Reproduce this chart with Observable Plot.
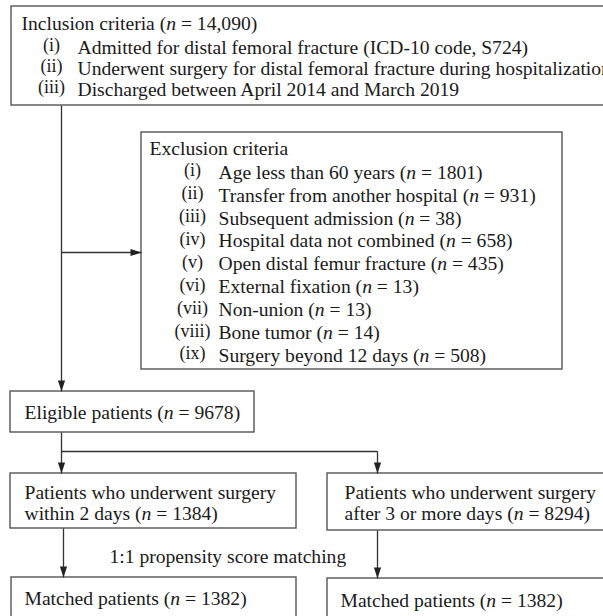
<!DOCTYPE html>
<html>
<head>
<meta charset="utf-8">
<script src="https://cdn.jsdelivr.net/npm/d3@7"></script>
<script src="https://cdn.jsdelivr.net/npm/@observablehq/plot@0.6"></script>
<style>
  html, body { margin: 0; padding: 0; background: #fff; overflow: hidden; }
  #chart svg { display: block; }
  #chart svg text { font-family: "Liberation Serif", "Times New Roman", serif; }
</style>
</head>
<body>
<div id="chart"></div>
<script>
// ---------------- DATA ----------------
const inclusionCount = 14090;
const inclusionNumerals = ["(i)", "(ii)", "(iii)"];
const inclusionItems = [
  "Admitted for distal femoral fracture (ICD-10 code, S724)",
  "Underwent surgery for distal femoral fracture during hospitalization",
  "Discharged between April 2014 and March 2019"
];
const exclusionNumerals = ["(i)", "(ii)", "(iii)", "(iv)", "(v)", "(vi)", "(vii)", "(viii)", "(ix)"];
const exclusionReasons = [
  "Age less than 60 years",
  "Transfer from another hospital",
  "Subsequent admission",
  "Hospital data not combined",
  "Open distal femur fracture",
  "External fixation",
  "Non-union",
  "Bone tumor",
  "Surgery beyond 12 days"
];
const exclusionCounts = [1801, 931, 38, 658, 435, 13, 13, 14, 508];
const eligibleCount = 9678;
const groupLines = [
  ["Patients who underwent surgery", "within 2 days"],
  ["Patients who underwent surgery", "after 3 or more days"]
];
const groupCounts = [1384, 8294];
const matchingLabel = "1:1 propensity score matching";
const matchedCounts = [1382, 1382];

// ---------------- LAYOUT (pixel frame 603 x 616) ----------------
const L = {
  top:      {x1: 11,  x2: 612, y1: 6,   y2: 105, hx: 21, hy: 23, nx: 51, tx: 77, rows: [47, 68, 89]},
  excl:     {x1: 141, x2: 562, y1: 132, y2: 369, hx: 149, hy: 148, nx: 192, tx: 218, row0: 172, step: 22.9},
  elig:     {x1: 10,  x2: 254, y1: 391, y2: 432, tx: 24, ty: 412},
  groups:   [{x1: 10, x2: 296, y1: 473, y2: 528, tx: 24, ty: [492, 513]},
             {x1: 327, x2: 612, y1: 473, y2: 530, tx: 344, ty: [492, 513]}],
  matchLbl: {x: 109, y: 556},
  matched:  [{x1: 11, x2: 296, y1: 577, y2: 640, tx: 24, ty: 598},
             {x1: 327, x2: 612, y1: 578, y2: 640, tx: 340, ty: 600}]
};

const fmt = n => n >= 10000 ? d3.format(",")(n) : String(n);
const nStr = n => `(n = ${fmt(n)})`;

const boxes = [L.top, L.excl, L.elig, ...L.groups, ...L.matched];

const segs = [
  {x1: 61, y1: L.top.y2, x2: 61, y2: L.elig.y1, arrow: true, rot: 0},
  {x1: 61, y1: 252, x2: L.excl.x1, y2: 252, arrow: true, rot: -90},
  {x1: 61, y1: L.elig.y2, x2: 61, y2: L.groups[0].y1, arrow: true, rot: 0},
  {x1: 61, y1: 451, x2: 377, y2: 451, arrow: false},
  {x1: 377, y1: 451, x2: 377, y2: L.groups[1].y1, arrow: true, rot: 0},
  {x1: 63, y1: L.groups[0].y2, x2: 63, y2: L.matched[0].y1, arrow: true, rot: 0},
  {x1: 377, y1: L.groups[1].y2, x2: 377, y2: L.matched[1].y1, arrow: true, rot: 0}
];
const heads = segs.filter(d => d.arrow);

const arrowHead = {
  draw(ctx) {
    ctx.moveTo(0, 0);
    ctx.lineTo(-3.6, -11);
    ctx.lineTo(3.6, -11);
    ctx.closePath();
  }
};

const mainTexts = [];
const numTexts = [];
mainTexts.push({x: L.top.hx, y: L.top.hy, t: `Inclusion criteria ${nStr(inclusionCount)}`});
inclusionItems.forEach((s, i) => {
  mainTexts.push({x: L.top.tx, y: L.top.rows[i], t: s});
  numTexts.push({x: L.top.nx, y: L.top.rows[i], t: inclusionNumerals[i]});
});
mainTexts.push({x: L.excl.hx, y: L.excl.hy, t: "Exclusion criteria"});
exclusionReasons.forEach((s, i) => {
  const y = L.excl.row0 + i * L.excl.step;
  mainTexts.push({x: L.excl.tx, y, t: `${s} ${nStr(exclusionCounts[i])}`});
  numTexts.push({x: L.excl.nx, y, t: exclusionNumerals[i]});
});
mainTexts.push({x: L.elig.tx, y: L.elig.ty, t: `Eligible patients ${nStr(eligibleCount)}`});
groupLines.forEach((lines, g) => {
  const b = L.groups[g];
  mainTexts.push({x: b.tx, y: b.ty[0], t: lines[0]});
  mainTexts.push({x: b.tx, y: b.ty[1], t: `${lines[1]} ${nStr(groupCounts[g])}`});
});
mainTexts.push({x: L.matchLbl.x, y: L.matchLbl.y, t: matchingLabel});
matchedCounts.forEach((c, g) => {
  const b = L.matched[g];
  mainTexts.push({x: b.tx, y: b.ty, t: `Matched patients ${nStr(c)}`});
});

const serif = "Liberation Serif";

const plot = Plot.plot({
  width: 603,
  height: 616,
  margin: 0,
  x: {domain: [0, 603], range: [0, 603], axis: null},
  y: {domain: [0, 616], range: [0, 616], axis: null},
  style: {background: "#fff", fontFamily: "Liberation Serif"},
  marks: [
    Plot.rect(boxes, {x1: "x1", x2: "x2", y1: "y1", y2: "y2", fill: "#fff", stroke: "#555", strokeWidth: 1.4, clip: true}),
    Plot.link(segs, {x1: "x1", y1: "y1", x2: "x2", y2: "y2", stroke: "#333", strokeWidth: 1.3}),
    Plot.dot(heads, {x: "x2", y: "y2", symbol: arrowHead, rotate: "rot", fill: "#222", stroke: "none", r: 5}),
    Plot.text(mainTexts, {x: "x", y: "y", text: "t", textAnchor: "start", fontFamily: serif, fontSize: 19.6, fill: "#1a1a1a", clip: true}),
    Plot.text(numTexts, {x: "x", y: "y", text: "t", textAnchor: "middle", fontFamily: serif, fontSize: 18, dy: -2, fill: "#1a1a1a"})
  ]
});

plot.querySelectorAll("text").forEach(el => {
  const s = el.textContent;
  const i = s.indexOf("(n =");
  if (i < 0 || el.children.length) return;
  el.textContent = "";
  el.appendChild(document.createTextNode(s.slice(0, i + 1)));
  const ts = document.createElementNS("http://www.w3.org/2000/svg", "tspan");
  ts.setAttribute("font-style", "italic");
  ts.textContent = "n";
  el.appendChild(ts);
  el.appendChild(document.createTextNode(s.slice(i + 2)));
});

document.getElementById("chart").appendChild(plot);
</script>
</body>
</html>
